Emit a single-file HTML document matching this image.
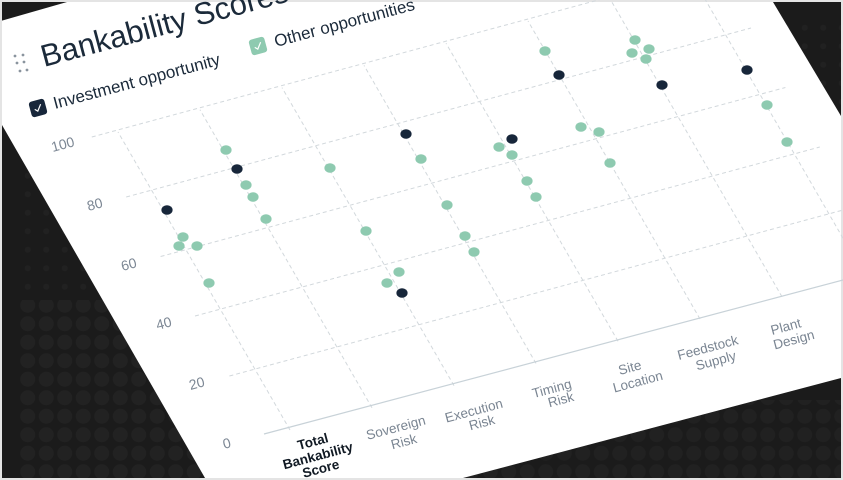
<!DOCTYPE html>
<html><head><meta charset="utf-8"><style>
html,body{margin:0;padding:0;background:#e4e4e4}
svg{display:block}
text{font-family:"Liberation Sans",sans-serif}
</style></head><body>
<svg width="843" height="480" viewBox="0 0 843 480" xmlns="http://www.w3.org/2000/svg">
<defs>
<pattern id="ht" x="0" y="0" width="18.5" height="18.5" patternUnits="userSpaceOnUse">
<circle cx="9.25" cy="9.25" r="7.5" fill="#222222"/>
</pattern>
<pattern id="ht2" x="0" y="0" width="18.5" height="18.5" patternUnits="userSpaceOnUse">
<circle cx="9.25" cy="9.25" r="3" fill="#212121"/>
</pattern>
</defs>
<rect x="2" y="2" width="839" height="476" fill="#1b1b1b"/>
<rect x="20" y="300" width="240" height="178" fill="url(#ht)"/>
<rect x="20" y="150" width="120" height="150" fill="url(#ht2)"/>
<rect x="430" y="400" width="411" height="78" fill="url(#ht)" opacity="0.8"/>
<rect x="780" y="20" width="61" height="120" fill="url(#ht2)"/>
<polygon points="2,20.6 67,2 773,2 841,116 841,378 463,478 205,478 2,125" fill="#ffffff"/>

<!-- handle -->
<g fill="#8a949e">
<circle cx="15" cy="56" r="1.4"/><circle cx="23" cy="55" r="1.4"/>
<circle cx="17" cy="63" r="1.4"/><circle cx="24" cy="62" r="1.4"/>
<circle cx="20" cy="71" r="1.4"/><circle cx="27" cy="70" r="1.4"/>
</g>
<text transform="translate(44,67) rotate(-15)" font-size="31" fill="#1b2a3a">Bankability Scores</text>

<!-- legend -->
<g transform="translate(38,108) rotate(-15)">
<rect x="-8" y="-8" width="16" height="16" rx="3" fill="#17263a"/>
<path d="M-3.5,0.5 L-1,3 L3.5,-3" stroke="#fff" stroke-width="1.2" fill="none"/>
</g>
<text transform="translate(55,109) rotate(-15)" font-size="17" fill="#1b2a3a">Investment opportunity</text>
<g transform="translate(258,46) rotate(-15)">
<rect x="-8" y="-8" width="16" height="16" rx="3" fill="#8ecab0"/>
<path d="M-3.5,0.5 L-1,3 L3.5,-3" stroke="#fff" stroke-width="1.2" fill="none"/>
</g>
<text transform="translate(276,47) rotate(-15)" font-size="17" fill="#1b2a3a">Other opportunities</text>

<!-- grid -->
<g stroke="#d2d8dc" stroke-width="1" stroke-dasharray="4,3" fill="none">
<line x1="290" y1="430" x2="118" y2="132"/>
<line x1="372" y1="407.8" x2="200" y2="109.8"/>
<line x1="454" y1="385.6" x2="282" y2="87.6"/>
<line x1="536" y1="363.4" x2="364" y2="65.4"/>
<line x1="618" y1="341.2" x2="446" y2="43.2"/>
<line x1="700" y1="319" x2="528" y2="21"/>
<line x1="782" y1="296.8" x2="610" y2="-1.2"/>
<line x1="864" y1="274.6" x2="692" y2="-23.4"/>
<line x1="229.4" y1="376" x2="854.2" y2="207"/>
<line x1="195" y1="316" x2="819.8" y2="147"/>
<line x1="160.6" y1="256.5" x2="785.4" y2="87.5"/>
<line x1="126.2" y1="197" x2="751" y2="28"/>
<line x1="91.8" y1="137" x2="716.6" y2="-32"/>
</g>
<line x1="264" y1="434" x2="888" y2="268" stroke="#c8d2d8" stroke-width="1.2"/>

<!-- y labels -->
<g font-size="14" fill="#7c8794" text-anchor="middle">
<text transform="translate(64,149) rotate(-15)">100</text>
<text transform="translate(96,209) rotate(-15)">80</text>
<text transform="translate(130,269) rotate(-15)">60</text>
<text transform="translate(165,328) rotate(-15)">40</text>
<text transform="translate(198,388) rotate(-15)">20</text>
<text transform="translate(228,448) rotate(-15)">0</text>
</g>

<!-- x labels -->
<g font-size="13.5" text-anchor="middle">
<g fill="#111a24" font-weight="bold">
<text transform="translate(314,446) rotate(-15)">Total</text>
<text transform="translate(319,460) rotate(-15)">Bankability</text>
<text transform="translate(322,473) rotate(-15)">Score</text>
</g>
<g fill="#7a8592">
<text transform="translate(397,432) rotate(-15)">Sovereign</text>
<text transform="translate(405,446) rotate(-15)">Risk</text>
<text transform="translate(475,415) rotate(-15)">Execution</text>
<text transform="translate(483,427) rotate(-15)">Risk</text>
<text transform="translate(553,393) rotate(-15)">Timing</text>
<text transform="translate(562,404) rotate(-15)">Risk</text>
<text transform="translate(631,372) rotate(-15)">Site</text>
<text transform="translate(639,386) rotate(-15)">Location</text>
<text transform="translate(709,352) rotate(-15)">Feedstock</text>
<text transform="translate(717,365) rotate(-15)">Supply</text>
<text transform="translate(787,331) rotate(-15)">Plant</text>
<text transform="translate(795,344) rotate(-15)">Design</text>
</g>
</g>

<!-- points -->
<g fill="#8ecab0">
<ellipse cx="226" cy="150" rx="5.6" ry="4.8"/><ellipse cx="246" cy="185" rx="5.6" ry="4.8"/>
<ellipse cx="253" cy="197" rx="5.6" ry="4.8"/><ellipse cx="266" cy="219" rx="5.6" ry="4.8"/>
<ellipse cx="183" cy="237" rx="5.6" ry="4.8"/><ellipse cx="179" cy="246" rx="5.6" ry="4.8"/>
<ellipse cx="197" cy="246" rx="5.6" ry="4.8"/><ellipse cx="209" cy="283" rx="5.6" ry="4.8"/>
<ellipse cx="330" cy="168" rx="5.6" ry="4.8"/><ellipse cx="366" cy="231" rx="5.6" ry="4.8"/>
<ellipse cx="399" cy="272" rx="5.6" ry="4.8"/><ellipse cx="387" cy="283" rx="5.6" ry="4.8"/>
<ellipse cx="421" cy="159" rx="5.6" ry="4.8"/><ellipse cx="447" cy="205" rx="5.6" ry="4.8"/>
<ellipse cx="465" cy="236" rx="5.6" ry="4.8"/><ellipse cx="474" cy="252" rx="5.6" ry="4.8"/>
<ellipse cx="499" cy="147" rx="5.6" ry="4.8"/><ellipse cx="512" cy="155" rx="5.6" ry="4.8"/>
<ellipse cx="527" cy="181" rx="5.6" ry="4.8"/><ellipse cx="536" cy="197" rx="5.6" ry="4.8"/>
<ellipse cx="545" cy="51" rx="5.6" ry="4.8"/><ellipse cx="581" cy="127" rx="5.6" ry="4.8"/>
<ellipse cx="599" cy="132" rx="5.6" ry="4.8"/><ellipse cx="610" cy="163" rx="5.6" ry="4.8"/>
<ellipse cx="635" cy="40" rx="5.6" ry="4.8"/><ellipse cx="649" cy="49" rx="5.6" ry="4.8"/>
<ellipse cx="632" cy="53" rx="5.6" ry="4.8"/><ellipse cx="646" cy="59" rx="5.6" ry="4.8"/>
<ellipse cx="767" cy="105" rx="5.6" ry="4.8"/><ellipse cx="787" cy="142" rx="5.6" ry="4.8"/>
</g>
<g fill="#17263a">
<ellipse cx="167" cy="210" rx="5.6" ry="4.8"/><ellipse cx="237" cy="169" rx="5.6" ry="4.8"/>
<ellipse cx="406" cy="134" rx="5.6" ry="4.8"/><ellipse cx="402" cy="293" rx="5.6" ry="4.8"/>
<ellipse cx="512" cy="139" rx="5.6" ry="4.8"/><ellipse cx="559" cy="75" rx="5.6" ry="4.8"/>
<ellipse cx="662" cy="85" rx="5.6" ry="4.8"/><ellipse cx="747" cy="70" rx="5.6" ry="4.8"/>
</g>
</svg>
</body></html>
